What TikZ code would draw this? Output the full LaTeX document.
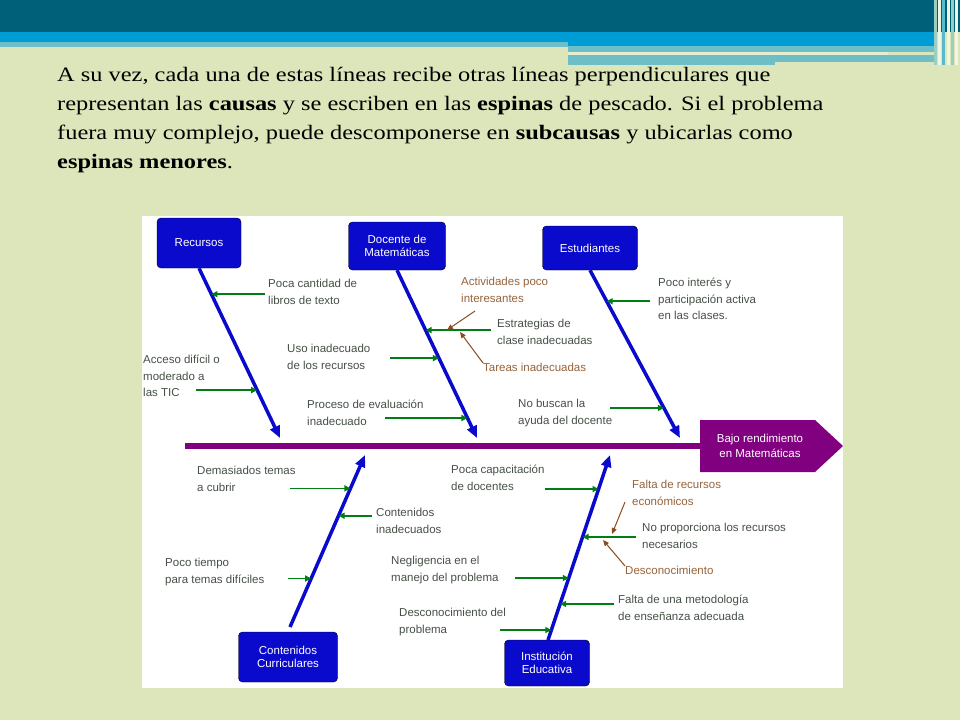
\documentclass[tikz,border=0pt]{standalone}
\usepackage{fontspec}
\setmainfont{Liberation Serif}[FakeStretch=1.19]
\newfontfamily\diagfont{Liberation Sans}
\usetikzlibrary{calc,arrows.meta}
\definecolor{slidebg}{RGB}{220,230,186}
\definecolor{bardark}{RGB}{0,96,122}
\definecolor{barblue}{RGB}{0,156,214}
\definecolor{barteal}{RGB}{110,190,200}
\definecolor{boneblue}{RGB}{10,10,205}
\definecolor{spinepurple}{RGB}{128,0,128}
\definecolor{causegreen}{RGB}{0,125,20}
\definecolor{subbrown}{RGB}{140,75,30}
\definecolor{labelgray}{RGB}{70,80,70}
\definecolor{labelbrown}{RGB}{150,100,60}
\tikzset{
  catbox/.style={draw=black, fill=boneblue, rounded corners=4pt, text=white, align=center, font=\diagfont\fontsize{11.5}{13}\selectfont, minimum height=40pt},
  cause/.style={anchor=north west, inner sep=0pt, align=left, text=labelgray, font=\diagfont\fontsize{11.5}{16.5}\selectfont},
  subcause/.style={cause, text=labelbrown},
  bone/.style={draw=boneblue, line width=3.5pt, -{Triangle[length=12pt,width=10pt]}},
  garrow/.style={draw=causegreen, line width=1.6pt, -{Triangle[length=6pt,width=6pt]}},
  barrow/.style={draw=subbrown, line width=1pt, -{Triangle[length=6pt,width=5pt]}}
}
\begin{document}
\begin{tikzpicture}[x=1pt,y=-1pt]
\useasboundingbox (0,0) rectangle (960,720);
% slide background
\fill[slidebg] (0,0) rectangle (960,720);
\fill[bardark] (0,0) rectangle (960,32);
\fill[barblue] (0,32) rectangle (934,46);
\fill[barteal] (0,42) rectangle (568,47);
\fill[barteal] (568,46) rectangle (934,52);
\fill[slidebg!70!white] (568,52) rectangle (888,55);
\fill[barteal] (568,55) rectangle (775,65);
\fill[barteal] (775,55) rectangle (934,62);
\foreach \xx/\cc in {934/barteal,938/white,942/barblue,947/white,951/barteal,955/white}
  \fill[\cc!60!slidebg] (\xx,0) rectangle ++(3,65);

% body text
\node[anchor=north west, inner sep=0pt, align=left, font=\fontsize{20.5}{29}\selectfont] (body) at (57,67)
  {A su vez, cada una de estas líneas recibe otras líneas perpendiculares que\\
   representan las \textbf{causas} y se escriben en las \textbf{espinas} de pescado. Si el problema\\
   fuera muy complejo, puede descomponerse en \textbf{subcausas} y ubicarlas como\\
   \textbf{espinas menores}.};

% diagram
\fill[white] (142,216) rectangle (843,688);
\draw[spinepurple, line width=6pt] (185,446) -- (705,446);
\fill[spinepurple] (700,420) -- (815,420) -- (843,446) -- (815,472) -- (700,472) -- cycle;
\node[text=white, align=center, font=\diagfont\fontsize{11.5}{15}\selectfont] (efecto) at (760,446)
  {Bajo rendimiento\\en Matemáticas};

\node[catbox, minimum width=84pt, minimum height=50pt] (recursos) at (199,243) {Recursos};
\node[catbox, minimum width=97pt, minimum height=48pt] (docente) at (397,246) {Docente de\\Matemáticas};
\node[catbox, minimum width=95pt, minimum height=44pt] (estud) at (590,248) {Estudiantes};
\node[catbox, minimum width=99pt, minimum height=50pt] (conten) at (288,657) {Contenidos\\Curriculares};
\node[catbox, minimum width=85pt, minimum height=46pt] (instit) at (547,663) {Institución\\Educativa};

\coordinate (rtip) at (280,438);
\coordinate (dtip) at (477,438);
\coordinate (etip) at (680,438);
\coordinate (ctip) at (365,455);
\coordinate (itip) at (610,455);
\draw[bone] (recursos.south) -- (rtip);
\draw[bone] (docente.south) -- (dtip);
\draw[bone] (estud.south) -- (etip);
\draw[bone] (290,627) -- (ctip);
\draw[bone] (548,640) -- (itip);

% points on the bones
\coordinate (r1) at ($(recursos.south)!0.153!(rtip)$);
\coordinate (r2) at ($(recursos.south)!0.718!(rtip)$);
\coordinate (d1) at ($(docente.south)!0.357!(dtip)$);
\coordinate (d2) at ($(docente.south)!0.524!(dtip)$);
\coordinate (d3) at ($(docente.south)!0.881!(dtip)$);
\coordinate (e1) at ($(estud.south)!0.185!(etip)$);
\coordinate (e2) at ($(estud.south)!0.821!(etip)$);
\coordinate (c1) at ($(ctip)!0.194!(290,627)$);
\coordinate (c2) at ($(ctip)!0.353!(290,627)$);
\coordinate (c3) at ($(ctip)!0.718!(290,627)$);
\coordinate (i1) at ($(itip)!0.184!(548,640)$);
\coordinate (i2) at ($(itip)!0.443!(548,640)$);
\coordinate (i3) at ($(itip)!0.665!(548,640)$);
\coordinate (i4) at ($(itip)!0.805!(548,640)$);
\coordinate (i5) at ($(itip)!0.946!(548,640)$);

% causes
\node[cause] (libros) at (268,279) {Poca cantidad de\\libros de texto};
\draw[garrow] ([xshift=-3pt]libros.west |- r1) -- (r1);
\node[cause] (tic) at (143,355) {Acceso difícil o\\moderado a\\las TIC};
\draw[garrow] ([xshift=53pt]tic.west |- r2) -- (r2);
\node[cause] (uso) at (287,344) {Uso inadecuado\\de los recursos};
\draw[garrow] ([xshift=103pt]uso.west |- d2) -- (d2);
\node[cause] (proceso) at (307,400) {Proceso de evaluación\\inadecuado};
\draw[garrow] ([xshift=78pt]proceso.west |- d3) -- (d3);
\node[cause] (estrat) at (497,319) {Estrategias de\\clase inadecuadas};
\draw[garrow] ([xshift=-6pt]estrat.west |- d1) -- (d1);
\node[subcause] (activ) at (461,277) {Actividades poco\\interesantes};
\draw[barrow] (475,311) -- (447,330);
\node[subcause] (tareas) at (483,363) {Tareas inadecuadas};
\draw[barrow] (tareas.north west) -- (460,332);
\node[cause] (interes) at (658,278) {Poco interés y\\participación activa\\en las clases.};
\draw[garrow] ([xshift=-8pt]interes.west |- e1) -- (e1);
\node[cause] (ayuda) at (518,399) {No buscan la\\ayuda del docente};
\draw[garrow] ([xshift=92pt]ayuda.west |- e2) -- (e2);

\node[cause] (temas) at (197,466) {Demasiados temas\\a cubrir};
\draw[garrow] ([xshift=93pt]temas.west |- c1) -- (c1);
\node[cause] (coninad) at (376,508) {Contenidos\\inadecuados};
\draw[garrow] ([xshift=-4pt]coninad.west |- c2) -- (c2);
\node[cause] (tiempo) at (165,558) {Poco tiempo\\para temas difíciles};
\draw[garrow] ([xshift=123pt]tiempo.west |- c3) -- (c3);

\node[cause] (capac) at (451,465) {Poca capacitación\\de docentes};
\draw[garrow] ([xshift=94pt]capac.west |- i1) -- (i1);
\node[subcause] (falta) at (632,480) {Falta de recursos\\económicos};
\draw[barrow] (625,502) -- (612,534);
\node[cause] (nopro) at (642,523) {No proporciona los recursos\\necesarios};
\draw[garrow] ([xshift=-6pt]nopro.west |- i2) -- (i2);
\node[subcause] (desco) at (625,566) {Desconocimiento};
\draw[barrow] (desco.north west) -- (603,540);
\node[cause] (neglig) at (391,556) {Negligencia en el\\manejo del problema};
\draw[garrow] ([xshift=124pt]neglig.west |- i3) -- (i3);
\node[cause] (metod) at (618,595) {Falta de una metodología\\de enseñanza adecuada};
\draw[garrow] ([xshift=-4pt]metod.west |- i4) -- (i4);
\node[cause] (descprob) at (399,608) {Desconocimiento del\\problema};
\draw[garrow] ([xshift=101pt]descprob.west |- i5) -- (i5);
\end{tikzpicture}
\end{document}
